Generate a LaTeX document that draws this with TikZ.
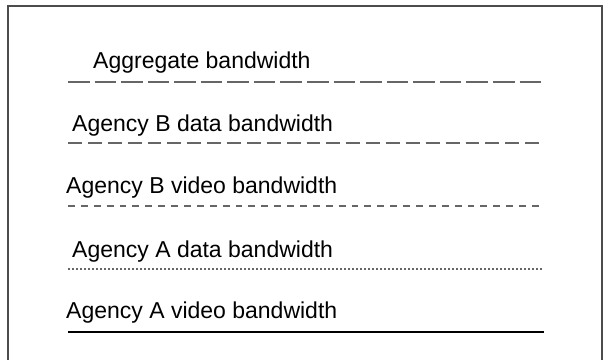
\documentclass[tikz,border=0pt]{standalone}
\usepackage{fontspec}
\setmainfont{Liberation Sans}
\usetikzlibrary{positioning}

\begin{document}
\begin{tikzpicture}[
x=1pt,
y=1pt,
lbl/.style={
anchor=base west,
inner sep=0pt,
font=\fontsize{23}{27}\selectfont
},
keyline/.style={line width=1.2pt,draw=black!60},
frameline/.style={line width=1.5pt,draw=black!70}
]

\useasboundingbox (0,0) rectangle (606,360);
\draw[frameline] (8,0) -- (8,354) -- (602,354) -- (602,0);

\node[lbl] (agg) at (93,292) {Aggregate bandwidth};
\node[lbl] (bdata) at (72,229) {Agency B data bandwidth};
\node[lbl] (bvideo) at (66,167) {Agency B video bandwidth};
\node[lbl] (adata) at (72,103) {Agency A data bandwidth};
\node[lbl] (avideo) at (66,42) {Agency A video bandwidth};

\coordinate (agg-l) at (68,278);
\coordinate (agg-r) at (541,278);
\coordinate (bdata-l) at (68,217);
\coordinate (bdata-r) at (539,217);
\coordinate (bvideo-l) at (68,154);
\coordinate (bvideo-r) at (539,154);
\coordinate (adata-l) at (68,91);
\coordinate (adata-r) at (543,91);
\coordinate (avideo-l) at (68,28);
\coordinate (avideo-r) at (544,28);

\draw[keyline,dash pattern=on 21.56pt off 5pt] (agg-l) -- (agg-r);
\draw[keyline,dash pattern=on 13.88pt off 6pt] (bdata-l) -- (bdata-r);
\draw[keyline,dash pattern=on 6.89pt off 6pt] (bvideo-l) -- (bvideo-r);
\draw[keyline,dash pattern=on 1.5pt off 2.5pt] (adata-l) -- (adata-r);
\draw[keyline,draw=black] (avideo-l) -- (avideo-r);

\end{tikzpicture}
\end{document}
